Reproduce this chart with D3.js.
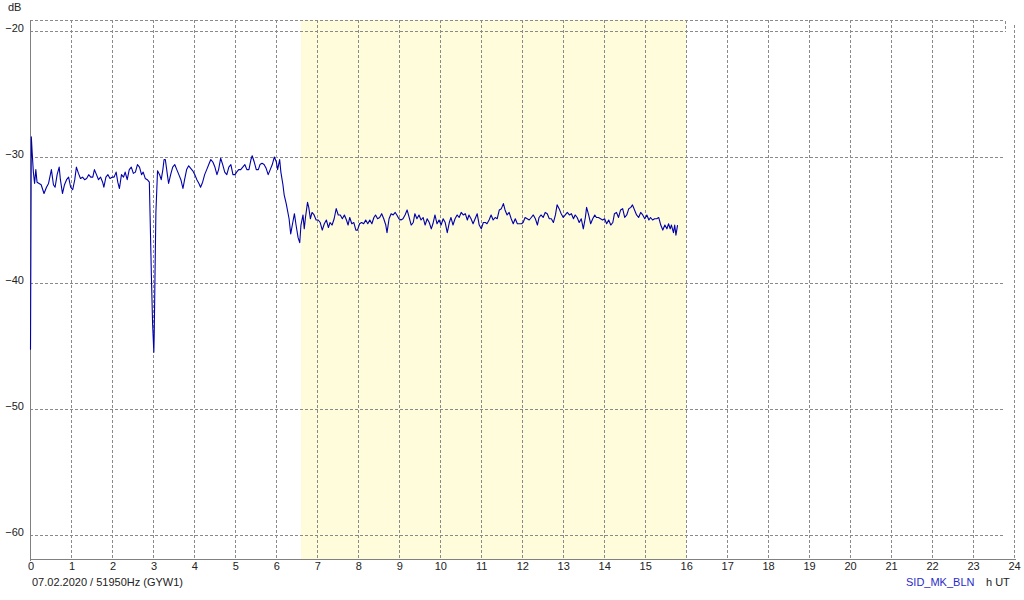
<!DOCTYPE html>
<html>
<head>
<meta charset="utf-8">
<script src="https://cdn.jsdelivr.net/npm/d3@7"></script>
<style>
  html, body { margin: 0; padding: 0; background: #ffffff; }
  svg { display: block; font-family: "Liberation Sans", Arial, sans-serif; }
</style>
</head>
<body>
<svg id="chart" width="1024" height="600"></svg>
<script>
// ---- data ----
const hourTicks = [0,1,2,3,4,5,6,7,8,9,10,11,12,13,14,15,16,17,18,19,20,21,22,23,24];
const dbTicks = [-20, -30, -40, -50, -60];
const highlightHours = [6.6, 16];          // shaded (daylight) interval
const dateLabel = "07.02.2020 / 51950Hz (GYW1)";
const stationLabel = "SID_MK_BLN";
const unitX = "h UT";
const unitY = "dB";
// [hour UT, signal dB]
const signal = [
[0.00,-45.3],[0.02,-28.4],[0.04,-29.6],[0.07,-31.2],[0.10,-32.1],[0.13,-31.0],[0.16,-32.0],[0.21,-32.1],[0.26,-32.2],[0.33,-32.9],
[0.39,-32.4],[0.44,-32.1],[0.51,-31.0],[0.56,-32.2],[0.60,-32.4],[0.65,-31.4],[0.70,-30.8],[0.73,-31.8],[0.78,-32.9],[0.83,-32.2],
[0.88,-31.8],[0.93,-31.6],[0.98,-32.4],[1.03,-32.6],[1.08,-31.8],[1.12,-30.8],[1.17,-31.3],[1.22,-31.7],[1.27,-31.6],[1.32,-31.8],
[1.37,-31.7],[1.42,-31.4],[1.47,-31.6],[1.52,-31.6],[1.56,-31.0],[1.61,-31.4],[1.66,-31.8],[1.71,-31.6],[1.76,-32.0],[1.79,-32.4],
[1.84,-31.6],[1.89,-31.4],[1.94,-31.7],[1.99,-31.6],[2.04,-31.6],[2.09,-31.2],[2.13,-32.0],[2.17,-32.5],[2.22,-31.4],[2.27,-31.6],
[2.31,-31.2],[2.36,-31.8],[2.41,-31.0],[2.46,-30.8],[2.51,-31.3],[2.56,-31.2],[2.61,-30.6],[2.66,-30.8],[2.71,-31.4],[2.75,-31.2],
[2.80,-31.7],[2.85,-31.8],[2.90,-32.0],[2.92,-34.9],[2.95,-39.4],[2.98,-43.3],[3.01,-45.5],[3.02,-43.9],[3.04,-38.9],[3.06,-34.4],
[3.10,-31.1],[3.15,-31.4],[3.19,-31.8],[3.23,-31.0],[3.26,-30.2],[3.29,-30.2],[3.34,-31.4],[3.37,-32.1],[3.42,-31.4],[3.47,-30.8],
[3.52,-30.6],[3.57,-31.0],[3.62,-31.4],[3.67,-31.8],[3.72,-32.5],[3.76,-31.8],[3.81,-31.0],[3.86,-30.7],[3.91,-30.9],[3.96,-31.1],
[4.01,-31.4],[4.06,-31.8],[4.11,-32.1],[4.15,-32.4],[4.20,-32.0],[4.25,-31.4],[4.30,-31.0],[4.35,-30.6],[4.40,-30.2],[4.45,-30.4],
[4.50,-30.8],[4.55,-31.4],[4.59,-31.0],[4.64,-30.1],[4.69,-30.6],[4.74,-31.2],[4.79,-31.4],[4.84,-30.8],[4.89,-30.6],[4.94,-31.4],
[4.99,-31.4],[5.03,-31.2],[5.08,-31.0],[5.13,-31.0],[5.18,-30.8],[5.23,-30.6],[5.28,-31.0],[5.33,-31.0],[5.38,-30.2],[5.41,-29.9],
[5.46,-30.4],[5.51,-31.0],[5.56,-31.0],[5.60,-30.6],[5.65,-30.5],[5.70,-30.6],[5.75,-30.9],[5.80,-31.4],[5.85,-31.0],[5.90,-30.6],
[5.95,-30.0],[6.00,-30.4],[6.03,-31.0],[6.08,-30.2],[6.11,-31.2],[6.16,-32.2],
[6.19,-33.0],[6.24,-33.7],[6.31,-34.9],[6.35,-36.1],[6.40,-35.2],[6.44,-34.5],[6.48,-35.4],[6.53,-36.4],[6.57,-36.8],[6.60,-35.4],
[6.65,-34.6],[6.68,-35.7],[6.71,-34.8],[6.76,-33.6],[6.79,-34.0],[6.83,-34.9],[6.87,-34.4],[6.92,-34.6],[6.97,-35.0],[7.02,-35.0],
[7.07,-35.2],[7.12,-35.8],[7.17,-35.3],[7.22,-35.0],[7.27,-35.6],[7.31,-35.2],[7.36,-35.4],[7.41,-34.9],[7.46,-34.1],[7.51,-34.6],
[7.56,-34.6],[7.61,-34.9],[7.66,-34.6],[7.71,-35.0],[7.75,-35.4],[7.79,-34.8],[7.84,-35.3],[7.89,-35.2],[7.94,-35.8],[7.98,-35.8],
[8.03,-35.3],[8.08,-35.2],[8.13,-35.3],[8.18,-35.0],[8.23,-35.3],[8.28,-35.0],[8.33,-35.3],[8.38,-34.8],[8.42,-34.6],[8.47,-34.9],
[8.52,-34.8],[8.57,-34.5],[8.62,-34.9],[8.67,-35.4],[8.70,-36.0],[8.75,-34.9],[8.80,-34.5],[8.85,-34.6],[8.90,-34.4],[8.94,-34.6],
[8.99,-34.9],[9.04,-35.0],[9.09,-34.9],[9.14,-34.6],[9.19,-34.2],[9.24,-34.8],
[9.29,-35.4],[9.34,-35.2],[9.38,-34.5],[9.43,-34.9],[9.48,-34.6],[9.53,-35.0],[9.58,-34.8],[9.63,-35.4],[9.68,-34.9],[9.73,-35.2],
[9.78,-35.7],[9.82,-35.3],[9.87,-34.6],[9.92,-35.3],[9.97,-35.0],[10.02,-35.4],[10.07,-34.9],[10.12,-35.2],[10.17,-36.0],[10.22,-35.2],
[10.26,-34.8],[10.31,-35.4],[10.36,-34.9],[10.41,-34.6],[10.46,-34.8],[10.51,-34.4],[10.56,-34.6],[10.61,-34.5],[10.66,-35.0],[10.70,-34.6],
[10.75,-34.9],[10.80,-35.3],[10.85,-34.9],[10.90,-34.5],[10.95,-35.4],[11.00,-35.7],[11.05,-35.2],[11.10,-35.2],[11.14,-35.3],[11.19,-35.0],
[11.24,-34.6],[11.29,-35.0],[11.34,-34.8],[11.39,-34.9],[11.44,-34.2],[11.49,-34.1],[11.54,-33.7],[11.58,-34.2],[11.63,-34.6],[11.68,-34.4],
[11.73,-34.9],[11.78,-35.3],[11.83,-34.9],[11.88,-35.3],[11.93,-35.3],[11.98,-35.3],[12.02,-35.2],[12.07,-34.8],[12.12,-34.9],[12.17,-35.0],
[12.22,-34.8],[12.27,-34.6],[12.32,-34.9],[12.37,-35.4],[12.41,-34.8],[12.46,-34.6],[12.51,-34.8],[12.56,-34.4],[12.61,-34.5],[12.66,-34.9],
[12.71,-34.9],[12.76,-35.2],[12.81,-34.6],[12.85,-33.8],[12.90,-34.1],[12.95,-34.5],[13.00,-34.8],[13.05,-34.6],[13.10,-34.4],[13.15,-34.6],
[13.20,-34.5],[13.25,-34.9],[13.29,-34.6],[13.34,-34.8],[13.39,-35.2],[13.44,-34.9],[13.49,-35.7],[13.54,-34.8],[13.57,-34.0],[13.62,-34.6],
[13.67,-35.3],[13.72,-34.9],[13.77,-34.6],[13.81,-34.8],[13.86,-34.8],[13.91,-34.9],[13.96,-35.0],[14.01,-34.9],[14.06,-35.3],[14.11,-35.0],
[14.16,-35.4],[14.21,-35.2],[14.25,-34.5],[14.30,-34.4],[14.35,-34.8],[14.40,-34.2],[14.45,-34.1],[14.50,-34.8],[14.55,-34.6],[14.60,-34.1],
[14.65,-34.0],[14.69,-33.8],[14.74,-34.2],[14.79,-34.6],[14.84,-34.8],[14.89,-34.4],[14.94,-34.6],[14.99,-34.9],[15.04,-34.6],[15.09,-35.0],
[15.13,-34.8],[15.18,-35.0],[15.23,-34.9],[15.28,-34.9],[15.33,-34.8],[15.38,-35.4],[15.43,-35.8],[15.48,-35.4],[15.53,-35.7],[15.57,-35.3],
[15.61,-35.7],[15.64,-35.4],[15.69,-36.0],[15.72,-35.4],[15.75,-36.2],[15.79,-35.4]
];

// ---- layout ----
const svg = d3.select("#chart");
const x = d3.scaleLinear().domain([0, 24]).range([30.5, 1014]);
const y = d3.scaleLinear().domain([-60, -20]).range([535, 31]);
const plotTop = 20, plotBottom = 560, plotLeft = 30, gridRight = 1005;
const px = v => Math.round(v) + 0.5;

const gridColor = "#8a8a8a";
const dash = "3,2";

// highlight band
svg.append("rect")
  .attr("x", x(highlightHours[0]))
  .attr("y", plotTop)
  .attr("width", x(highlightHours[1]) - x(highlightHours[0]))
  .attr("height", plotBottom - plotTop)
  .attr("fill", "#fffcdc");

const grid = svg.append("g").attr("shape-rendering", "crispEdges")
  .attr("stroke", gridColor).attr("stroke-dasharray", dash).attr("fill", "none");

// vertical grid lines
grid.selectAll("line.v").data(hourTicks.filter(h => h > 0)).enter().append("line")
  .attr("x1", d => px(x(d))).attr("x2", d => px(x(d)))
  .attr("y1", d => d === 24 ? 25 : plotTop).attr("y2", plotBottom);

// horizontal grid lines
grid.selectAll("line.h").data(dbTicks).enter().append("line")
  .attr("x1", plotLeft).attr("x2", gridRight)
  .attr("y1", d => px(y(d))).attr("y2", d => px(y(d)));

// top border
grid.append("line").attr("x1", plotLeft).attr("x2", gridRight)
  .attr("y1", px(plotTop)).attr("y2", px(plotTop));
grid.append("line").attr("x1", px(gridRight)).attr("x2", px(gridRight))
  .attr("y1", px(plotTop)).attr("y2", px(y(-20)));

// solid axes
const axes = svg.append("g").attr("shape-rendering", "crispEdges").attr("stroke", "#808080");
axes.append("line").attr("x1", px(plotLeft)).attr("x2", px(plotLeft)).attr("y1", plotTop).attr("y2", plotBottom + 1);
axes.append("line").attr("x1", plotLeft).attr("x2", px(x(24)) + 1).attr("y1", px(plotBottom - 1)).attr("y2", px(plotBottom - 1));

// signal line
const line = d3.line().x(d => x(d[0])).y(d => y(d[1]));
svg.append("path").datum(signal)
  .attr("d", line)
  .attr("fill", "none")
  .attr("stroke", "#0000aa")
  .attr("stroke-width", 1.1)
  .attr("stroke-linejoin", "round");

// x axis labels
const xAxis = d3.axisBottom(x).tickValues(hourTicks).tickSize(0).tickPadding(0).tickFormat(d3.format("d"));
const gx = svg.append("g").attr("transform", `translate(0,${plotBottom + 2})`).call(xAxis);
gx.select(".domain").remove();
gx.selectAll("text").attr("font-size", 11).attr("fill", "#222")
  .attr("font-family", "'Liberation Sans', Arial, sans-serif");

// y axis labels
const yAxis = d3.axisLeft(y).tickValues(dbTicks).tickSize(0).tickPadding(0).tickFormat(d3.format("d"));
const gy = svg.append("g").attr("transform", `translate(24,-3)`).call(yAxis);
gy.select(".domain").remove();
gy.selectAll("text").attr("font-size", 11).attr("fill", "#222")
  .attr("font-family", "'Liberation Sans', Arial, sans-serif");

// unit labels & footer
svg.append("text").attr("x", 8).attr("y", 11).attr("font-size", 11).attr("fill", "#222").text(unitY);
svg.append("text").attr("x", 32).attr("y", 586).attr("font-size", 11).attr("fill", "#222").text(dateLabel);
svg.append("text").attr("x", 906).attr("y", 586).attr("font-size", 11).attr("fill", "#2a2acc").text(stationLabel);
svg.append("text").attr("x", 986).attr("y", 586).attr("font-size", 11).attr("fill", "#222").text(unitX);
</script>
</body>
</html>
